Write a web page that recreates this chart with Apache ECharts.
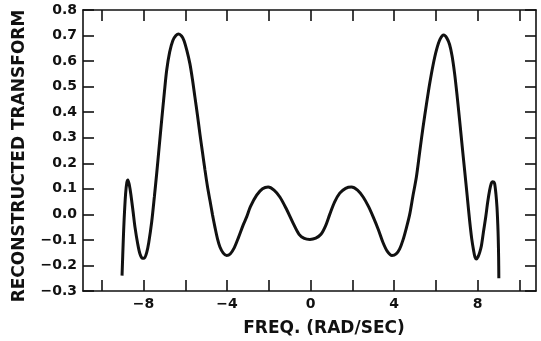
<!DOCTYPE html>
<html>
<head>
<meta charset="utf-8">
<script src="https://cdn.jsdelivr.net/npm/echarts@6/dist/echarts.min.js"></script>
<style>html,body{margin:0;padding:0;background:#fff;}#c{width:541px;height:341px;}</style>
</head>
<body>
<div id="c"></div>
<script>
var xs = [-9.03,-8.97,-8.93,-8.86,-8.80,-8.75,-8.68,-8.61,-8.50,-8.41,-8.28,-8.17,-8.05,-7.97,-7.85,-7.75,-7.61,-7.48,-7.37,-7.25,-7.13,-7.00,-6.89,-6.75,-6.60,-6.45,-6.32,-6.18,-6.06,-5.92,-5.78,-5.66,-5.54,-5.42,-5.30,-5.18,-5.06,-4.94,-4.82,-4.70,-4.58,-4.46,-4.34,-4.18,-4.02,-3.85,-3.65,-3.45,-3.22,-3.06,-2.88,-2.58,-2.30,-2.03,-1.75,-1.47,-1.15,-0.83,-0.55,-0.30,-0.03,0.25,0.50,0.72,0.92,1.15,1.40,1.68,1.96,2.25,2.52,2.78,3.00,3.25,3.47,3.68,3.90,4.10,4.27,4.43,4.60,4.75,4.90,5.07,5.23,5.39,5.55,5.71,5.87,6.03,6.20,6.38,6.53,6.66,6.78,6.90,7.02,7.14,7.26,7.38,7.50,7.62,7.72,7.81,7.88,7.95,8.03,8.10,8.18,8.28,8.39,8.49,8.58,8.66,8.71,8.77,8.82,8.88,8.93,8.97,8.99,9.01,9.02];
var ys = [-0.24,-0.10,-0.02,0.08,0.125,0.135,0.115,0.08,0.01,-0.05,-0.115,-0.155,-0.172,-0.172,-0.15,-0.11,-0.03,0.07,0.16,0.265,0.37,0.48,0.565,0.635,0.68,0.700,0.706,0.698,0.68,0.64,0.59,0.53,0.46,0.39,0.315,0.245,0.175,0.11,0.055,0.0,-0.05,-0.095,-0.128,-0.152,-0.161,-0.155,-0.13,-0.09,-0.04,-0.01,0.03,0.075,0.100,0.107,0.095,0.068,0.02,-0.035,-0.078,-0.094,-0.098,-0.093,-0.078,-0.045,0.0,0.048,0.083,0.102,0.107,0.095,0.068,0.03,-0.01,-0.06,-0.11,-0.145,-0.161,-0.155,-0.135,-0.10,-0.05,0.0,0.07,0.146,0.245,0.342,0.43,0.513,0.585,0.643,0.685,0.702,0.69,0.665,0.62,0.552,0.465,0.369,0.27,0.173,0.075,-0.024,-0.095,-0.141,-0.168,-0.175,-0.165,-0.15,-0.125,-0.07,-0.011,0.05,0.095,0.122,0.128,0.127,0.12,0.08,0.029,-0.04,-0.09,-0.17,-0.25];
var xTicks = [-10,-8,-6,-4,-2,0,2,4,6,8,10];
var xLabels = [-8,-4,0,4,8];
var yTicks = [-0.3,-0.2,-0.1,0.0,0.1,0.2,0.3,0.4,0.5,0.6,0.7,0.8];
var xTitle = 'FREQ. (RAD/SEC)';
var yTitle = 'RECONSTRUCTED TRANSFORM';

var FONT = 'DejaVu Sans';
var INK = '#111';
var points = xs.map(function (x, i) { return [x, ys[i]]; });
function fmt(v) { var s = Math.abs(v) < 1e-9 ? '0' : String(Math.round(v*10)/10); return s.replace('-', '\u2212'); }
function fmtY(v) { var s = (Math.abs(v) < 1e-9 ? 0 : v).toFixed(1); return s.replace('-', '\u2212'); }
var axisLine = { show: true, onZero: false, lineStyle: { color: INK, width: 1.6 } };
var tick = { show: true, inside: true, length: 11, lineStyle: { color: INK, width: 1.6 } };

var chart = echarts.init(document.getElementById('c'));
chart.setOption({
  animation: false,
  backgroundColor: '#fff',
  grid: { left: 83, right: 5, top: 10, bottom: 50 },
  xAxis: [{
    type: 'value', min: -10.9, max: 10.8, position: 'bottom',
    axisLine: axisLine,
    axisTick: Object.assign({}, tick, { customValues: xTicks }),
    axisLabel: { customValues: xLabels, formatter: fmt, color: INK, fontFamily: FONT, fontWeight: 'bold', fontSize: 14, margin: 6 },
    splitLine: { show: false }
  }, {
    type: 'value', min: -10.9, max: 10.8, position: 'top',
    axisLine: axisLine,
    axisTick: Object.assign({}, tick, { customValues: xTicks }),
    axisLabel: { show: false },
    splitLine: { show: false }
  }],
  yAxis: [{
    type: 'value', min: -0.3, max: 0.8, interval: 0.1, position: 'left',
    axisLine: axisLine, axisTick: tick,
    axisLabel: { formatter: fmtY, color: INK, fontFamily: FONT, fontWeight: 'bold', fontSize: 14, margin: 6 },
    splitLine: { show: false }
  }, {
    type: 'value', min: -0.3, max: 0.8, interval: 0.1, position: 'right',
    axisLine: axisLine, axisTick: tick,
    axisLabel: { show: false },
    splitLine: { show: false }
  }],
  graphic: [{
    type: 'text', x: 324, y: 329,
    style: { text: xTitle, fill: INK, font: 'bold 17px "DejaVu Sans"', textAlign: 'center', textVerticalAlign: 'middle' }
  }, {
    type: 'text', x: 20, y: 156, rotation: Math.PI / 2,
    style: { text: yTitle, fill: INK, font: 'bold 17px "DejaVu Sans"', textAlign: 'center', textVerticalAlign: 'middle' }
  }],
  series: [{
    type: 'line', xAxisIndex: 0, yAxisIndex: 0,
    data: points, showSymbol: false, smooth: 0.3,
    lineStyle: { color: INK, width: 3 }
  }]
});
</script>
</body>
</html>
